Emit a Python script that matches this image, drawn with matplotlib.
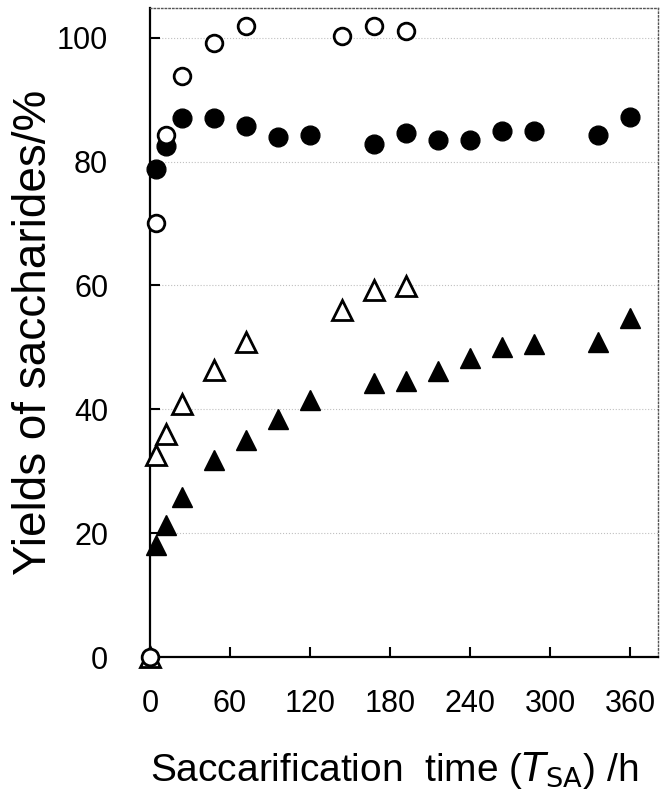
import numpy as np
import matplotlib
matplotlib.use('Agg')
import matplotlib.pyplot as plt

# tiempos de sacarificacion (h)
t = [0, 5, 12, 24, 48, 72, 96, 120, 144, 168, 192, 216, 240, 264, 288, 336, 360]
nan = np.nan

# circulos abiertos / cerrados, triangulos abiertos / cerrados
open_circ = [0, 70, 84.3, 93.8, 99.2, 101.8, nan, nan, 100.2, 101.8, 101.0, nan, nan, nan, nan, nan, nan]
fill_circ = [nan, 78.8, 82.5, 87.0, 87.0, 85.8, 83.9, 84.3, nan, 82.8, 84.6, 83.5, 83.5, 84.9, 85.0, 84.3, 87.2]
open_tri = [0, 32.6, 36.0, 40.9, 46.4, 50.8, nan, nan, 56.1, 59.2, 59.9, nan, nan, nan, nan, nan, nan]
fill_tri = [0, 18.1, 21.3, 25.9, 31.8, 35.1, 38.5, 41.5, nan, 44.3, 44.6, 46.1, 48.3, 50.1, 50.6, 50.9, 54.7]

plt.rcParams['font.family'] = ['Liberation Sans', 'DejaVu Sans']

fig = plt.figure(figsize=(6.6, 7.91), dpi=100)
ax = fig.add_axes([0.227, 0.1694, 0.770, 0.8206])

ax.plot(t, fill_tri, linestyle='none', marker='^', markersize=14.5, color='black', clip_on=False, zorder=3)
ax.plot(t, open_tri, linestyle='none', marker='^', markersize=14, markerfacecolor='white',
        markeredgecolor='black', markeredgewidth=2, clip_on=False, zorder=4)
ax.plot(t, fill_circ, linestyle='none', marker='o', markersize=13.5, color='black', clip_on=False, zorder=3)
ax.plot(t, open_circ, linestyle='none', marker='o', markersize=12, markerfacecolor='white',
        markeredgecolor='black', markeredgewidth=2, clip_on=False, zorder=5)

ax.set_xlim(0, 381)
ax.set_ylim(0, 104.8)
ax.set_xticks([0, 60, 120, 180, 240, 300, 360])
ax.set_yticks([0, 20, 40, 60, 80, 100])

ax.yaxis.grid(True, linestyle=':', color='#c0c0c0', linewidth=0.8)
ax.set_axisbelow(True)

for s in ['left', 'bottom']:
    ax.spines[s].set_linewidth(1.6)
for s in ['top', 'right']:
    ax.spines[s].set_linestyle(':')
    ax.spines[s].set_color('#555555')
    ax.spines[s].set_linewidth(1.0)

ax.tick_params(axis='both', direction='in', length=7, width=1.5)
ax.tick_params(axis='x', labelsize=22, pad=23)
ax.tick_params(axis='y', labelsize=22, pad=30)

ax.set_xlabel('Saccarification  time ($\\it{T}$$_{\\rm SA}$) /h', fontsize=28, labelpad=22)
ax.xaxis.label.set_x(0.48)
ax.set_ylabel('Yields of saccharides/%', fontsize=33, labelpad=1)

fig.savefig('out.png', dpi=100)
